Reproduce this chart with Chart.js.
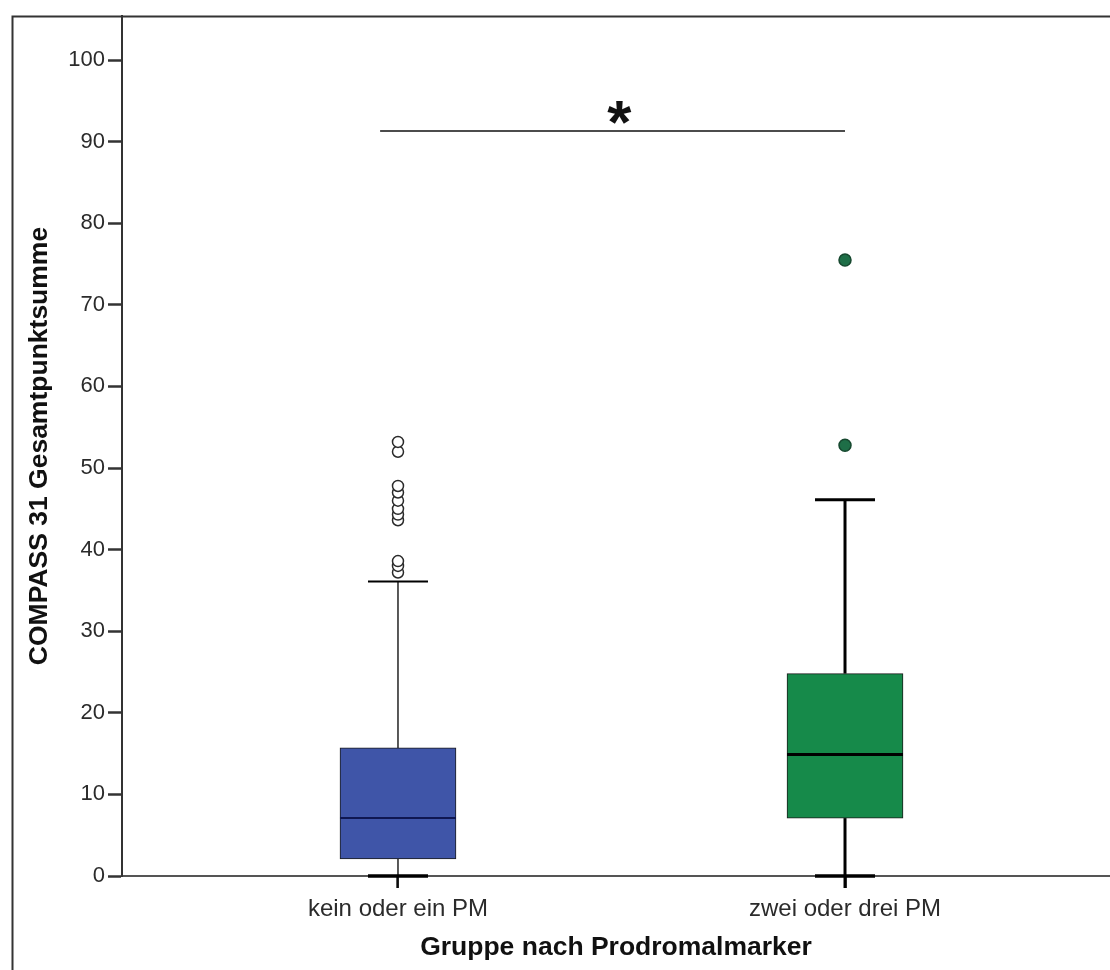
<!DOCTYPE html>
<html><head><meta charset="utf-8">
<script src="https://cdn.jsdelivr.net/npm/chart.js@4.4.0/dist/chart.umd.min.js"></script>
<style>html,body{margin:0;padding:0;background:#fff;} canvas{display:block;}</style>
</head><body>
<canvas id="c" width="1110" height="970"></canvas>
<script>
// ---- data ----
const categories = ['kein oder ein PM', 'zwei oder drei PM'];
const whiskerLow = [0, 0];
const q1 = [2.1, 7.1];
const medians = [7.1, 14.9];
const q3 = [15.7, 24.8];
const whiskerHigh = [36.1, 46.1];
const outliersGroup1 = [37.2, 38.0, 38.6, 43.6, 44.3, 45.0, 46.0, 47.0, 47.8, 52.0, 53.2];
const outliersGroup2 = [52.8, 75.5];
const yTicks = [0, 10, 20, 30, 40, 50, 60, 70, 80, 90, 100];
const sigFrom = 0.96, sigTo = 2, sigY = 91.3, sigStarX = 1.495, sigLabel = '*';
const boxColors = ['#3F55A8', '#168A4A'];

const FONT = "'Liberation Sans', Arial, Helvetica, sans-serif";

const framePlugin = {
  id: 'frame',
  afterDraw(chart) {
    const ctx = chart.ctx;
    ctx.save();
    ctx.strokeStyle = '#333';
    ctx.lineWidth = 2;
    ctx.beginPath();
    ctx.moveTo(12.5, 970);
    ctx.lineTo(12.5, 16.5);
    ctx.lineTo(1110, 16.5);
    ctx.stroke();
    ctx.restore();
  }
};

const styles = [
  {w: 1.3, cap: 2, capLow: 3.5, med: 2, medColor: '#0f1752'},
  {w: 3, cap: 3, capLow: 3.5, med: 3, medColor: '#000'}
];
const CAP_HALF = 30;

function seg(ctx, x1, y1, x2, y2) {
  ctx.beginPath(); ctx.moveTo(x1, y1); ctx.lineTo(x2, y2); ctx.stroke();
}

const boxPlugin = {
  id: 'boxParts',
  beforeDatasetsDraw(chart) {
    const {ctx, scales: {x, y}} = chart;
    ctx.save();
    ctx.strokeStyle = '#000';
    categories.forEach((c, i) => {
      const cx = x.getPixelForValue(i + 1);
      const s = styles[i];
      ctx.lineWidth = s.w;
      seg(ctx, cx, y.getPixelForValue(whiskerLow[i]) + 12, cx, y.getPixelForValue(q1[i]));
      seg(ctx, cx, y.getPixelForValue(q3[i]), cx, y.getPixelForValue(whiskerHigh[i]));
      ctx.lineWidth = s.cap;
      const yh = y.getPixelForValue(whiskerHigh[i]);
      seg(ctx, cx - CAP_HALF, yh, cx + CAP_HALF, yh);
      ctx.lineWidth = s.capLow;
      const yl = y.getPixelForValue(whiskerLow[i]);
      seg(ctx, cx - CAP_HALF, yl, cx + CAP_HALF, yl);
    });
    // significance bracket
    ctx.lineWidth = 1.5;
    ctx.strokeStyle = '#111';
    const sy = y.getPixelForValue(sigY);
    seg(ctx, x.getPixelForValue(sigFrom), sy, x.getPixelForValue(sigTo), sy);
    ctx.fillStyle = '#111';
    ctx.font = 'bold 62px ' + FONT;
    ctx.textAlign = 'center';
    ctx.textBaseline = 'alphabetic';
    ctx.fillText(sigLabel, x.getPixelForValue(sigStarX), sy + 12);
    ctx.restore();
  },
  afterDatasetsDraw(chart) {
    const {ctx, scales: {x, y}} = chart;
    const meta = chart.getDatasetMeta(0);
    ctx.save();
    categories.forEach((c, i) => {
      const bar = meta.data[i];
      const half = bar.width / 2;
      const cx = x.getPixelForValue(i + 1);
      const ym = y.getPixelForValue(medians[i]);
      ctx.strokeStyle = styles[i].medColor;
      ctx.lineWidth = styles[i].med;
      seg(ctx, cx - half, ym, cx + half, ym);
    });
    ctx.restore();
  }
};

new Chart(document.getElementById('c'), {
  type: 'bar',
  data: {
    datasets: [
      {
        type: 'bar',
        data: categories.map((c, i) => ({x: i + 1, y: [q1[i], q3[i]]})),
        backgroundColor: boxColors,
        borderColor: '#1b1b1b',
        borderWidth: 1,
        borderSkipped: false,
        barThickness: 116,
        order: 3
      },
      {
        type: 'scatter',
        data: outliersGroup1.map(v => ({x: 1, y: v})),
        pointRadius: 5.5,
        pointBackgroundColor: '#ffffff',
        pointBorderColor: '#2a2a2a',
        pointBorderWidth: 1.5,
        order: 1
      },
      {
        type: 'scatter',
        data: outliersGroup2.map(v => ({x: 2, y: v})),
        pointRadius: 6,
        pointBackgroundColor: '#1E6E47',
        pointBorderColor: '#16482f',
        pointBorderWidth: 1.5,
        order: 1
      }
    ]
  },
  options: {
    responsive: false,
    animation: false,
    devicePixelRatio: 1,
    layout: {autoPadding: false, padding: {top: 16, left: 0, right: 0, bottom: 0}},
    plugins: {legend: {display: false}, tooltip: {enabled: false}},
    scales: {
      x: {
        type: 'linear',
        offset: false,
        min: 0.3826,
        max: 2.5928,
        afterBuildTicks: s => { s.ticks = categories.map((c, i) => ({value: i + 1})); },
        afterFit: s => { s.height = 94; s.paddingLeft = 0; s.paddingRight = 0; },
        ticks: {
          callback: v => categories[v - 1],
          autoSkip: false, maxRotation: 0, padding: 7,
          color: '#2b2b2b', font: {family: FONT, size: 24}
        },
        grid: {offset: false, drawOnChartArea: false, drawTicks: true, tickLength: 12, tickWidth: 2.5, tickColor: '#222'},
        border: {display: true, color: '#555', width: 2},
        title: {
          display: true, text: 'Gruppe nach Prodromalmarker', color: '#111',
          font: {family: FONT, size: 26.5, weight: 'bold'}, padding: {top: 0, bottom: 6}
        }
      },
      y: {
        min: 0,
        max: 105.4,
        afterBuildTicks: s => { s.ticks = yTicks.map(v => ({value: v})); },
        afterFit: s => { s.width = 122; s.paddingTop = 0; s.paddingBottom = 0; },
        ticks: {
          padding: 3, color: '#2b2b2b', font: {family: FONT, size: 22}
        },
        grid: {drawOnChartArea: false, drawTicks: true, tickLength: 14, tickWidth: 2.5, tickColor: '#333'},
        border: {display: true, color: '#333', width: 2},
        title: {
          display: true, text: 'COMPASS 31 Gesamtpunktsumme', color: '#111',
          font: {family: FONT, size: 26.5, weight: 'bold'}, padding: {top: 24, bottom: 0}
        }
      }
    }
  },
  plugins: [framePlugin, boxPlugin]
});
</script>
</body></html>
